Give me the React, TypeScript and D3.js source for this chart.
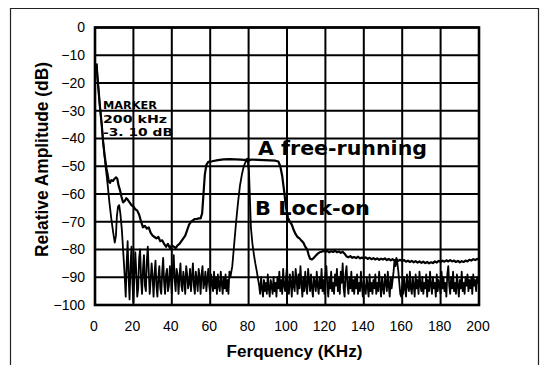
import React from "react";
import * as d3 from "d3";

// ---------- data ----------
const xTicks = [0, 20, 40, 60, 80, 100, 120, 140, 160, 180, 200];
const yTicks = [0, -10, -20, -30, -40, -50, -60, -70, -80, -90, -100];

// Curve A : free-running  [kHz, dB]
const curveA: [number, number][] = [
  [0.8, -13], [1.3, -18], [2.5, -28], [3.5, -35], [4.2, -41], [5, -46], [6, -51], [6.6, -53],
  [7.2, -55.5], [7.8, -56], [8.5, -55], [9.4, -55.3], [10.2, -54.5], [11, -54], [11.6, -54.5],
  [12.3, -57], [13, -58.6], [13.8, -61], [14.6, -63], [15.5, -62.5], [16.3, -61.5], [17, -62],
  [18, -63], [19, -64], [20, -64.5], [21, -65.5], [22, -66], [23, -67.5], [24, -70], [25, -72],
  [26, -71.5], [27, -72.5], [28, -72], [29, -74], [30, -75], [31, -75.5], [32, -76], [33, -75.5],
  [34, -77], [35, -76.7], [36, -78], [37, -79], [38, -78], [39, -79.5], [40, -78.5], [41, -79],
  [42, -79.5], [43, -78.5], [44, -78], [45, -77], [46, -76], [47, -75], [48, -73], [49, -71],
  [50, -70], [51, -69.5], [52, -69], [53, -69], [54, -68.8], [55, -68.8], [55.8, -67],
  [56.5, -60], [57.2, -53], [58, -49.5], [59, -48.4], [61, -48.2], [64, -47.8], [67, -47.5],
  [70, -47.4], [73, -47.5], [76, -47.6], [79, -47.8], [82, -47.6], [85, -47.7], [88, -47.8],
  [91, -47.9], [94, -48], [95.5, -48.3], [96.5, -50], [97.5, -53.5], [98.5, -59], [99.5, -65],
  [100.5, -68.5], [101.5, -70], [102.5, -71], [103.5, -73], [104.5, -74.5], [105.5, -75.5],
  [106.5, -76], [107.5, -76.8], [108.5, -77.5], [109.5, -79], [110.5, -80], [111.3, -82],
  [112, -83.3], [113, -83.6], [114, -83], [115, -82.2], [116, -81.5], [117, -81], [118, -80.8],
  [119, -80.5], [120, -80.8], [121, -80.5], [122, -81], [123, -80.6], [124, -80.9], [125, -80.4],
  [126, -81], [127, -80.7], [128, -81.2], [129, -80.8], [130, -81.5], [131, -82.5], [132, -82.8],
  [133, -82.4], [134, -83], [135, -82.7], [136, -83.1], [137, -82.6], [138, -83.2], [139, -82.9],
  [140, -83.3], [141, -82.8], [142, -83.4], [143, -83], [144, -83.5], [145, -83.1], [146, -83.6],
  [147, -83.2], [148, -83.7], [149, -83.3], [150, -83.6], [151, -83.2], [152, -83.8], [153, -83.4],
  [154, -83.9], [155, -83.5], [156, -84], [157, -83.6], [158, -84.1], [159, -83.7], [160, -84.2],
  [161, -83.8], [162, -84.4], [163, -84], [164, -84.5], [165, -84.1], [166, -84.6], [167, -84.2],
  [168, -84.7], [169, -84.3], [170, -84.8], [171, -84.4], [172, -84.9], [173, -84.5], [174, -85],
  [175, -84.6], [176, -84.9], [177, -84.3], [178, -84.7], [179, -84.1], [180, -84.5], [181, -84],
  [182, -84.4], [183, -83.9], [184, -84.3], [185, -83.8], [186, -84.3], [187, -84], [188, -84.5],
  [189, -84.1], [190, -84.6], [191, -84.2], [192, -84.5], [193, -84], [194, -84.3], [195, -83.7],
  [196, -84], [197, -83.5], [198, -83.8], [199, -83.4], [200, -83.7],
];

// Curve B : lock-on, leading part [kHz, dB]
const curveBHead: [number, number][] = [
  [0.8, -13], [1.3, -18], [2.5, -28], [3.5, -35], [4.2, -41], [5.5, -50], [6.5, -56],
  [7.5, -63], [8.5, -69], [9.5, -74], [10.3, -77.5], [10.9, -75], [11.4, -68], [12, -64.5],
  [12.6, -64], [13.2, -67], [14, -73], [14.8, -82], [15.5, -90],
];

// Curve B noise floor 16 .. 70 kHz, one sweep sample every 0.5 kHz
const bNoiseLowStart = 16;
const bNoiseLow = [
  -97, -85, -77, -90, -98, -86, -79, -92, -99, -90,
  -81, -88, -97, -94, -83, -80, -91, -96, -87, -82,
  -93, -95, -84, -79, -88, -96, -91, -85, -90, -97,
  -89, -84, -93, -97, -90, -86, -94, -96, -88, -83,
  -92, -96, -89, -87, -95, -93, -86, -90, -96, -88,
  -82, -91, -95, -87, -89, -96, -90, -85, -93, -95,
  -88, -91, -96, -86, -89, -94, -92, -87, -95, -90,
  -85, -93, -96, -88, -91, -95, -87, -90, -96, -89,
  -86, -94, -92, -88, -95, -91, -87, -93, -96, -89,
  -92, -95, -88, -94, -90, -96, -89, -93, -95, -88,
  -92, -96, -90, -94, -89, -95, -91, -96, -88,
];

// Curve B locked carrier peak [kHz, dB]
const curveBPeak: [number, number][] = [
  [70.5, -90], [71.5, -86], [72.5, -78], [73.5, -70], [74.5, -63], [75.5, -57], [76.5, -53],
  [77.5, -50], [78.5, -48.3], [79.5, -47.8], [80.2, -52], [80.7, -62], [81.2, -72], [82, -78],
  [82.8, -82], [83.5, -85], [84.3, -88], [85, -91],
];

// Curve B noise floor 85.5 .. 200 kHz, one sweep sample every 0.5 kHz
const bNoiseHighStart = 85.5;
const bNoiseHigh = [
  -93, -96, -90, -94, -97, -91, -95, -92, -96, -89, -94, -97, -91, -93, -96, -90, -95, -92, -97, -90,
  -94, -88, -95, -91, -96, -87, -93, -95, -90, -86, -94, -96, -89, -92, -97, -88, -93, -95, -87, -91,
  -96, -89, -94, -86, -92, -97, -90, -95, -88, -93, -96, -87, -91, -95, -89, -94, -97, -90, -92, -95,
  -88, -93, -96, -90, -94, -87, -95, -91, -96, -89, -86, -93, -97, -90, -94, -88, -95, -92, -96, -89,
  -93, -87, -95, -90, -96, -88, -92, -85, -94, -97, -89, -86, -93, -96, -90, -94, -88, -95, -91, -96,
  -90, -94, -89, -96, -92, -95, -88, -93, -97, -91, -94, -96, -90, -93, -97, -89, -95, -92, -96, -91,
  -94, -89, -96, -92, -95, -88, -93, -97, -90, -94, -96, -89, -92, -95, -88, -93, -97, -90, -94, -91,
  -88, -84, -86, -83, -85, -88, -92, -96, -97, -93, -96, -90, -94, -97, -89, -93, -95, -88, -94, -96,
  -90, -93, -97, -89, -94, -91, -96, -88, -93, -95, -90, -96, -92, -94, -89, -97, -91, -95, -88, -93,
  -96, -90, -94, -92, -97, -89, -95, -91, -93, -96, -88, -94, -90, -95, -92, -97, -89, -86, -93, -96,
  -90, -94, -88, -95, -92, -96, -89, -93, -97, -91, -94, -88, -95, -92, -96, -90, -93, -89, -95, -91,
  -94, -90, -96, -89, -93, -91, -95, -90, -92, -90,
];

const markerPoint: [number, number] = [79.5, -47.8];
const markerLines = ["MARKER", "200 kHz", "-3. 10 dB"];
const labelA = "A free-running";
const labelB = "B Lock-on";
const xTitle = "Ferquency (KHz)";
const yTitle = "Relative Amplitude (dB)";

// ---------- chart ----------
const W = 543;
const H = 365;
const FONT = "'Liberation Sans', Arial, Helvetica, sans-serif";
const BOLD = "'DejaVu Sans', 'Liberation Sans', Arial, sans-serif";

export default function App() {
  const x = d3.scaleLinear().domain([0, 200]).range([95, 479]);
  const y = d3.scaleLinear().domain([-100, 0]).range([305, 27.5]);

  const line = d3
    .line<[number, number]>()
    .x((d) => x(d[0]))
    .y((d) => y(d[1]));

  const noiseLow: [number, number][] = bNoiseLow.map((v, i) => [bNoiseLowStart + i * 0.5, v]);
  const noiseHigh: [number, number][] = bNoiseHigh.map((v, i) => [bNoiseHighStart + i * 0.5, v]);
  const curveB: [number, number][] = [...curveBHead, ...noiseLow, ...curveBPeak, ...noiseHigh];

  const [x0, x1] = x.range();
  const [yb, yt] = y.range();

  return (
    <svg
      width={W}
      height={H}
      style={{ position: "fixed", left: 0, top: 0, background: "#fff" }}
    >
      {/* outer frame */}
      <path d={`M10.5,365 L10.5,8.5 L538.5,8.5 L538.5,365`} fill="none" stroke="#222" strokeWidth={1.2} />

      {/* grid */}
      <g stroke="#000" strokeWidth={2}>
        {xTicks.map((t) => (
          <line key={"gx" + t} x1={x(t)} x2={x(t)} y1={yt} y2={yb} />
        ))}
        {yTicks.map((t) => (
          <line key={"gy" + t} x1={x0} x2={x1} y1={y(t)} y2={y(t)} />
        ))}
      </g>
      <rect x={x0} y={yt} width={x1 - x0} height={yb - yt} fill="none" stroke="#000" strokeWidth={2.6} />

      {/* curves */}
      <path d={line(curveB) || ""} fill="none" stroke="#000" strokeWidth={1.8} strokeLinejoin="round" />
      <path d={line(curveA) || ""} fill="none" stroke="#000" strokeWidth={2.2} strokeLinejoin="round" />
      <circle cx={x(markerPoint[0])} cy={y(markerPoint[1])} r={2.4} fill="#000" />

      {/* tick labels */}
      <g fontFamily={FONT} fontSize={14} fill="#000">
        {yTicks.map((t) => (
          <text key={"ty" + t} x={85} y={y(t)} dy="0.35em" textAnchor="end">
            {t === 0 ? "0" : "\u2212" + Math.abs(t)}
          </text>
        ))}
        {xTicks.map((t) => (
          <text key={"tx" + t} x={x(t) - 1} y={331} textAnchor="middle">
            {t}
          </text>
        ))}
      </g>

      {/* axis titles */}
      <text
        x={294.5}
        y={356.5}
        textAnchor="middle"
        fontFamily={FONT}
        fontWeight="bold"
        fontSize={16.3}
        textLength={136}
        lengthAdjust="spacingAndGlyphs"
      >
        {xTitle}
      </text>
      <text
        transform="translate(47.5,159.5) rotate(-90)"
        textAnchor="middle"
        fontFamily={FONT}
        fontWeight="bold"
        fontSize={17.5}
        textLength={195}
        lengthAdjust="spacingAndGlyphs"
      >
        {yTitle}
      </text>

      {/* annotations */}
      <text x={258} y={155} fontFamily={BOLD} fontWeight="bold" fontSize={19.5} textLength={169} lengthAdjust="spacingAndGlyphs">
        {labelA}
      </text>
      <text x={255} y={215} fontFamily={BOLD} fontWeight="bold" fontSize={20} textLength={115} lengthAdjust="spacingAndGlyphs">
        {labelB}
      </text>

      {/* marker readout */}
      <g fontFamily={BOLD} fontWeight="bold" fontSize={10}>
        <text x={103} y={109} textLength={54} lengthAdjust="spacingAndGlyphs">{markerLines[0]}</text>
        <text x={103} y={122.5} textLength={64} lengthAdjust="spacingAndGlyphs">{markerLines[1]}</text>
        <text x={103} y={136} textLength={70} lengthAdjust="spacingAndGlyphs">{markerLines[2]}</text>
      </g>
    </svg>
  );
}
